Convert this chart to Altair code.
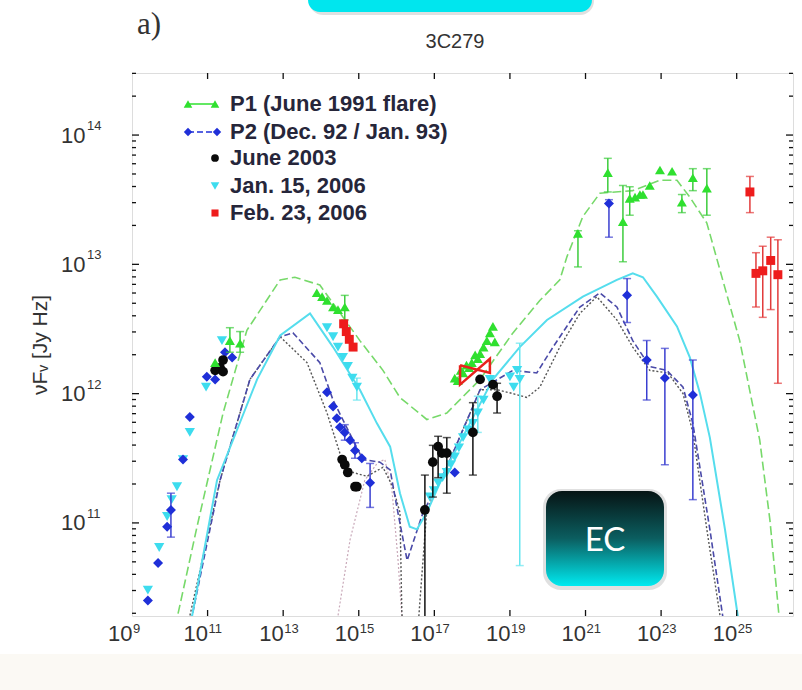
import altair as alt
import pandas as pd

W, H = 661, 543

# ---------------- data: log10(nu [Hz]) and log10(nuFnu [Jy Hz]) ----------------
# P1 (June 1991 flare) - green triangles
p1_lognu = [11.20, 11.59, 11.86,
            13.89, 14.03, 14.16, 14.32, 14.45, 14.63,
            17.54, 17.62, 17.70, 17.76, 17.85, 17.92, 17.99, 18.08, 18.15, 18.21, 18.30, 18.39, 18.47, 18.55, 18.60,
            20.80, 21.59, 21.99, 22.17, 22.31, 22.44, 22.52, 22.70, 22.97, 23.29, 23.55, 23.84, 24.21]
p1_logf = [12.24, 12.41, 12.39,
           12.78, 12.75, 12.72, 12.67, 12.65, 12.67,
           12.12, 12.10, 12.18, 12.16, 12.22, 12.20, 12.24, 12.30, 12.27, 12.31, 12.36, 12.41, 12.47, 12.52, 12.40,
           13.24, 13.71, 13.33, 13.51, 13.52, 13.54, 13.54, 13.61, 13.73, 13.72, 13.48, 13.67, 13.59]
p1_err_nu = [11.59, 11.86, 14.63, 20.80, 21.59, 21.99, 22.17, 23.55, 23.84, 24.21]
p1_err_lo = [12.32, 12.32, 12.57, 12.98, 13.56, 13.02, 13.38, 13.40, 13.57, 13.38]
p1_err_hi = [12.51, 12.48, 12.76, 13.26, 13.82, 13.61, 13.60, 13.54, 13.74, 13.74]

# P2 (Dec. 92 / Jan. 93) - blue diamonds
p2_lognu = [9.42, 9.69, 9.93, 10.03, 10.35, 10.53, 10.98, 11.20, 11.46, 11.65,
            14.16, 14.32, 14.42, 14.50, 14.63, 14.77, 14.90, 15.08, 15.30,
            17.54,
            21.62, 22.10, 22.62, 23.10, 23.84]
p2_logf = [10.40, 10.69, 10.97, 11.10, 11.49, 11.82, 12.13, 12.11, 12.32, 12.28,
           12.01, 11.90, 11.81, 11.74, 11.70, 11.64, 11.56, 11.50, 11.31,
           11.39,
           13.47, 12.76, 12.26, 12.12, 11.99]
p2_err_nu = [10.03, 14.63, 14.90, 15.30, 21.62, 22.10, 22.62, 23.10, 23.84]
p2_err_lo = [10.89, 11.64, 11.50, 11.12, 13.21, 12.55, 11.95, 11.45, 11.18]
p2_err_hi = [11.23, 11.76, 11.62, 11.46, 13.50, 12.89, 12.41, 12.35, 12.26]

# June 2003 - black circles
j03_lognu = [11.20, 11.33, 11.41, 11.41,
             14.56, 14.63, 14.71, 14.90, 14.95,
             16.75, 16.96, 17.10, 17.20, 17.33, 18.02, 18.21, 18.55, 18.66]
j03_logf = [12.18, 12.20, 12.17, 12.26,
            11.49, 11.45, 11.39, 11.28, 11.28,
            11.10, 11.47, 11.59, 11.54, 11.54, 11.70, 12.11, 12.07, 11.98]
j03_err_nu = [16.75, 16.96, 17.10, 17.33, 18.02, 18.66]
j03_err_lo = [9.00, 11.20, 11.35, 11.23, 11.37, 11.85]
j03_err_hi = [11.37, 11.60, 11.67, 11.66, 11.93, 12.08]

# Jan. 15, 2006 - cyan down-triangles
j06_lognu = [9.42, 9.72, 9.93, 10.05, 10.19, 10.35, 10.53, 10.96, 11.38,
             14.16, 14.32, 14.45, 14.58, 14.71, 14.83, 14.95,
             16.88, 16.99, 17.10, 17.22, 17.33, 17.44, 17.54, 17.65, 17.76, 17.89, 18.02, 18.15, 18.30, 18.47,
             19.00, 19.10, 19.19, 19.26]
j06_logf = [10.48, 10.81, 11.05, 11.18, 11.28, 11.49, 11.70, 12.05, 12.41,
            12.51, 12.44, 12.36, 12.28, 12.21, 12.12, 12.05,
            11.20, 11.25, 11.31, 11.35, 11.39, 11.45, 11.51, 11.58, 11.66, 11.72, 11.77, 11.85, 11.95, 12.11,
            12.13, 12.05, 12.18, 12.11]
j06_err_nu = [14.95, 18.15, 19.26]
j06_err_lo = [11.95, 11.70, 10.67]
j06_err_hi = [12.12, 11.98, 12.39]

# Feb. 23, 2006 - red squares
f06_lognu = [14.60, 14.67, 14.75, 14.85, 25.35, 25.51, 25.69, 25.90, 26.09]
f06_logf = [12.54, 12.48, 12.42, 12.36, 13.56, 12.93, 12.95, 13.03, 12.92]
f06_err_nu = [25.35, 25.51, 25.69, 25.90, 26.09]
f06_err_lo = [13.40, 12.67, 12.59, 12.65, 12.08]
f06_err_hi = [13.68, 13.09, 13.14, 13.21, 13.19]
# X-ray bow-tie (Feb. 2006)
bow_lognu = [17.68, 18.47, 18.47, 17.68, 17.68]
bow_logf = [12.22, 12.16, 12.27, 12.07, 12.22]

# model curves
m1_lognu = [10.10, 10.22, 10.72, 11.41, 12.04, 12.92, 13.31, 13.97, 15.03, 15.64, 16.09, 16.80, 17.33, 18.21,
            19.08, 19.79, 20.32, 20.51, 20.93, 21.38, 22.25, 22.97, 23.42, 23.76, 24.21, 24.63, 25.08, 25.43,
            25.61, 25.88, 26.12, 26.20]
m1_logf = [10.10, 10.30, 10.97, 11.85, 12.49, 12.88, 12.90, 12.84, 12.41, 12.18, 11.97, 11.80, 11.85, 12.11,
           12.47, 12.72, 12.88, 13.06, 13.37, 13.55, 13.57, 13.65, 13.65, 13.52, 13.32, 12.88, 12.41, 11.90,
           11.64, 11.02, 10.28, 10.00]
m2_lognu = [10.50, 10.59, 11.25, 12.31, 12.92, 13.71, 14.32, 15.03, 15.48, 15.83, 16.09, 16.35, 16.54, 16.80,
            17.33, 17.94, 18.55, 19.26, 19.98, 20.93, 21.83, 22.25, 22.52, 22.89, 23.42, 23.76, 24.03, 24.29,
            24.69, 25.03, 25.10]
m2_logf = [10.10, 10.28, 11.33, 12.11, 12.45, 12.62, 12.36, 12.03, 11.77, 11.59, 11.23, 10.97, 10.95, 11.08,
           11.43, 11.77, 12.11, 12.36, 12.57, 12.75, 12.88, 12.93, 12.90, 12.75, 12.52, 12.28, 12.00, 11.66,
           10.95, 10.28, 10.10]
m3_lognu = [10.50, 10.59, 11.33, 12.12, 12.92, 13.26, 13.97, 14.32, 14.85, 15.11, 15.56, 15.83, 16.01, 16.28,
            16.70, 17.33, 18.21, 19.08, 19.71, 20.14, 20.85, 21.38, 21.83, 22.25, 22.70, 23.15, 23.58, 23.84,
            24.29, 24.63, 24.70]
m3_logf = [10.10, 10.28, 11.33, 12.11, 12.44, 12.47, 12.24, 11.95, 11.64, 11.49, 11.47, 11.41, 11.12, 10.71,
           11.08, 11.43, 12.03, 12.18, 12.16, 12.36, 12.67, 12.78, 12.67, 12.41, 12.21, 12.18, 12.05, 11.77,
           10.95, 10.28, 10.10]
m4_lognu = [10.45, 10.53, 11.33, 12.12, 12.92, 13.63, 14.16, 14.50, 14.85, 15.22, 15.64, 15.90, 16.09, 16.14,
            16.40, 16.62, 16.80, 17.33, 18.21, 18.66, 19.08, 19.45, 19.79, 20.32, 20.85, 21.30, 21.83, 22.25,
            22.70, 23.18, 23.58, 23.84, 24.21, 24.56, 24.62]
m4_logf = [10.10, 10.28, 11.33, 12.11, 12.44, 12.24, 11.85, 11.54, 11.39, 11.36, 11.43, 11.28, 11.08, 10.30,
           9.50, 10.40, 11.10, 11.43, 12.03, 12.03, 12.00, 11.97, 12.05, 12.36, 12.62, 12.75, 12.57, 12.36,
           12.18, 12.16, 12.00, 11.70, 10.95, 10.28, 10.10]
m5_lognu = [14.40, 14.45, 14.77, 15.16, 15.51, 15.69, 15.88, 16.04, 16.14, 16.18]
m5_logf = [10.10, 10.28, 10.87, 11.33, 11.47, 11.49, 11.25, 10.71, 10.28, 10.10]

# axes
x_major = [1e9, 1e11, 1e13, 1e15, 1e17, 1e19, 1e21, 1e23, 1e25]
x_exp = ["9", "11", "13", "15", "17", "19", "21", "23", "25"]
y_major = [1e11, 1e12, 1e13, 1e14]
y_exp = ["11", "12", "13", "14"]
y_minor = [k * 10.0 ** d for d in (10, 11, 12, 13, 14) for k in range(2, 10)]

legend_labels = ["P1 (June 1991 flare)", "P2 (Dec. 92 / Jan. 93)", "June 2003", "Jan. 15, 2006", "Feb. 23, 2006"]
title_text = "3C279"
panel_text = "a)"
box_text = "EC"

# ---------------- build ----------------
XMIN, XMAX = 1e9, 10 ** 26.49
YMIN, YMAX = 10 ** 10.28, 10 ** 14.48
xs = alt.Scale(type="log", domain=[XMIN, XMAX], nice=False)
ys = alt.Scale(type="log", domain=[YMIN, YMAX], nice=False)
FONT = "Liberation Sans"

xaxis = alt.Axis(values=x_major, labelExpr="'10'", labelAlign="right", labelFontSize=22, labelFont=FONT,
                 labelColor="#333", labelPadding=7, ticks=False, tickSize=0, domain=False, grid=False,
                 title="ν [Hz]", titleFont=FONT, titleFontSize=21, titleFontWeight="normal",
                 titleColor="#333", titlePadding=8, labelFlush=False, labelOverlap=False)
yaxis = alt.Axis(values=y_major, labelExpr="'10'", labelFontSize=22, labelFont=FONT, labelColor="#333",
                 labelPadding=47, ticks=False, tickSize=0, domain=False, grid=False,
                 title="νFᵥ [Jy Hz]", titleFont=FONT, titleFontSize=21, titleFontWeight="normal",
                 titleColor="#333", titlePadding=10, labelFlush=False, labelOverlap=False)


def X(f="nu"):
    return alt.X(f, type="quantitative", scale=xs, axis=xaxis)


def Y(f="f"):
    return alt.Y(f, type="quantitative", scale=ys, axis=yaxis)


def pts(lognu, logf):
    return pd.DataFrame({"nu": [10 ** a for a in lognu], "f": [10 ** b for b in logf]})


def errs(lognu, lo, hi):
    return pd.DataFrame({"nu": [10 ** a for a in lognu], "lo": [10 ** a for a in lo], "hi": [10 ** a for a in hi]})


layers = []
one = pd.DataFrame({"a": [0]})

# faint band at bottom of the page
layers.append(alt.Chart(one).mark_rect(color="#fbf9f4").encode(
    x=alt.value(-132), x2=alt.value(W + 9), y=alt.value(H + 38), y2=alt.value(H + 74)))


def model(lognu, logf, color, width, dash=None):
    kw = dict(color=color, strokeWidth=width, clip=True)
    if dash:
        kw["strokeDash"] = dash
    d = pts(lognu, logf).reset_index()
    return alt.Chart(d).mark_line(**kw).encode(X(), Y(), order="index:Q")


layers.append(model(m5_lognu, m5_logf, "#c9a9b9", 1.2, [2, 2]))
layers.append(model(m4_lognu, m4_logf, "#555555", 1.4, [2, 2]))
layers.append(model(m3_lognu, m3_logf, "#4a4aa8", 1.6, [6, 3]))
layers.append(model(m1_lognu, m1_logf, "#77d96a", 1.6, [9, 4]))
layers.append(model(m2_lognu, m2_logf, "#55dded", 2.0))


def errorbars(lognu, lo, hi, color):
    d = errs(lognu, lo, hi)
    rule = alt.Chart(d).mark_rule(color=color, strokeWidth=1.5, clip=True).encode(X(), Y("lo"), y2="hi")
    cap_lo = alt.Chart(d).mark_tick(color=color, orient="horizontal", size=8, thickness=1.5, clip=True).encode(X(), Y("lo"))
    cap_hi = alt.Chart(d).mark_tick(color=color, orient="horizontal", size=8, thickness=1.5, clip=True).encode(X(), Y("hi"))
    return [rule, cap_lo, cap_hi]


def points(lognu, logf, color, shape, size):
    return alt.Chart(pts(lognu, logf)).mark_point(filled=True, shape=shape, size=size, color=color, opacity=1,
                                                  clip=True).encode(X(), Y())


layers += errorbars(j06_err_nu, j06_err_lo, j06_err_hi, "#66e6ef")
layers.append(points(j06_lognu, j06_logf, "#3ddcee", "triangle-down", 105))
layers += errorbars(p2_err_nu, p2_err_lo, p2_err_hi, "#3a3fd0")
layers.append(points(p2_lognu, p2_logf, "#1f2fd8", "diamond", 100))
layers += errorbars(j03_err_nu, j03_err_lo, j03_err_hi, "#111111")
layers.append(points(j03_lognu, j03_logf, "#0a0a0a", "circle", 95))
layers += errorbars(p1_err_nu, p1_err_lo, p1_err_hi, "#3ccc3c")
layers.append(points(p1_lognu, p1_logf, "#2fe02f", "triangle-up", 100))
layers += errorbars(f06_err_nu, f06_err_lo, f06_err_hi, "#e23a3a")
layers.append(points(f06_lognu, f06_logf, "#ee1c1c", "square", 80))
layers.append(alt.Chart(pts(bow_lognu, bow_logf).reset_index()).mark_line(color="#e8221c", strokeWidth=2.5,
                                                                           clip=True).encode(X(), Y(), order="index:Q"))

# inward ticks
xt = pd.DataFrame({"nu": x_major[1:]})
ytm = pd.DataFrame({"f": y_major})
ytn = pd.DataFrame({"f": [v for v in y_minor if YMIN < v < YMAX]})
tk = dict(color="#111", strokeWidth=1.3)
layers.append(alt.Chart(xt).mark_rule(**tk).encode(X(), y=alt.value(H), y2=alt.value(H - 6)))
layers.append(alt.Chart(xt).mark_rule(**tk).encode(X(), y=alt.value(0), y2=alt.value(6)))
layers.append(alt.Chart(ytm).mark_rule(**tk).encode(Y(), x=alt.value(0), x2=alt.value(7)))
layers.append(alt.Chart(ytm).mark_rule(**tk).encode(Y(), x=alt.value(W), x2=alt.value(W - 7)))
layers.append(alt.Chart(ytn).mark_rule(**tk).encode(Y(), x=alt.value(0), x2=alt.value(4)))
layers.append(alt.Chart(ytn).mark_rule(**tk).encode(Y(), x=alt.value(W), x2=alt.value(W - 4)))

# exponents of tick labels
layers.append(alt.Chart(pd.DataFrame({"nu": x_major, "e": x_exp})).mark_text(
    align="left", baseline="alphabetic", fontSize=13, font=FONT, color="#333", dx=1).encode(
    X(), y=alt.value(H + 17), text="e:N"))
layers.append(alt.Chart(pd.DataFrame({"f": y_major, "e": y_exp})).mark_text(
    align="left", baseline="middle", fontSize=13, font=FONT, color="#333", dy=-9).encode(
    Y(), x=alt.value(-45), text="e:N"))

# legend (inside the frame, top-left)
leg_y = [31, 59, 85, 113, 140]
for lbl, yy in zip(legend_labels, leg_y):
    layers.append(alt.Chart(pd.DataFrame({"t": [lbl]})).mark_text(
        align="left", baseline="middle", fontSize=22, fontWeight="bold", font=FONT, color="#26263a").encode(
        x=alt.value(98), y=alt.value(yy), text="t:N"))
layers.append(alt.Chart(one).mark_rule(color="#2fe02f", strokeWidth=1.5).encode(
    x=alt.value(56), x2=alt.value(83), y=alt.value(leg_y[0])))
layers.append(alt.Chart(one).mark_rule(color="#1f2fd8", strokeWidth=1.5, strokeDash=[6, 3]).encode(
    x=alt.value(56), x2=alt.value(85), y=alt.value(leg_y[1])))
for xx in (56, 83):
    layers.append(alt.Chart(one).mark_point(filled=True, shape="triangle-up", size=75, color="#2fe02f", opacity=1).encode(
        x=alt.value(xx), y=alt.value(leg_y[0])))
for xx in (56, 85):
    layers.append(alt.Chart(one).mark_point(filled=True, shape="diamond", size=70, color="#1f2fd8", opacity=1).encode(
        x=alt.value(xx), y=alt.value(leg_y[1])))
layers.append(alt.Chart(one).mark_point(filled=True, shape="circle", size=60, color="#0a0a0a", opacity=1).encode(
    x=alt.value(83), y=alt.value(leg_y[2])))
layers.append(alt.Chart(one).mark_point(filled=True, shape="triangle-down", size=75, color="#3ddcee", opacity=1).encode(
    x=alt.value(83), y=alt.value(leg_y[3])))
layers.append(alt.Chart(one).mark_point(filled=True, shape="square", size=50, color="#ee1c1c", opacity=1).encode(
    x=alt.value(83), y=alt.value(leg_y[4])))

# panel label and title
layers.append(alt.Chart(pd.DataFrame({"t": [panel_text]})).mark_text(
    align="left", baseline="middle", fontSize=31, font="Liberation Serif", color="#333").encode(
    x=alt.value(5), y=alt.value(-48), text="t:N"))
layers.append(alt.Chart(pd.DataFrame({"t": [title_text]})).mark_text(
    align="center", baseline="middle", fontSize=20, font=FONT, color="#333").encode(
    x=alt.value(323), y=alt.value(-31), text="t:N"))

# decorative boxes
layers.append(alt.Chart(one).mark_rect(color="#000000", opacity=0.12, cornerRadius=14).encode(
    x=alt.value(177), x2=alt.value(462), y=alt.value(-90), y2=alt.value(-58)))
layers.append(alt.Chart(one).mark_rect(color="#00e6ee", cornerRadius=12).encode(
    x=alt.value(176), x2=alt.value(460), y=alt.value(-90), y2=alt.value(-61)))
layers.append(alt.Chart(one).mark_rect(color="#000000", opacity=0.12, cornerRadius=18).encode(
    x=alt.value(411), x2=alt.value(535), y=alt.value(416), y2=alt.value(517)))
grad = alt.Gradient(gradient="linear", x1=0, y1=0, x2=0, y2=1,
                    stops=[alt.GradientStop(color="#061414", offset=0),
                           alt.GradientStop(color="#0b5e60", offset=0.5),
                           alt.GradientStop(color="#00eaf0", offset=1)])
layers.append(alt.Chart(one).mark_rect(color=grad, cornerRadius=16).encode(
    x=alt.value(414), x2=alt.value(532), y=alt.value(418), y2=alt.value(513)))
layers.append(alt.Chart(pd.DataFrame({"t": [box_text]})).mark_text(
    align="center", baseline="middle", fontSize=33, font="Lato", color="white").encode(
    x=alt.value(473), y=alt.value(468), text="t:N"))

chart = alt.layer(*layers).properties(
    width=W, height=H,
    autosize=alt.AutoSizeParams(type="none"),
    padding={"left": 132, "top": 73, "right": 9, "bottom": 74},
).configure_view(stroke="#111", strokeWidth=1.6).configure(background="white")

chart.save("out.html", embed_options={"renderer": "svg", "actions": False})
